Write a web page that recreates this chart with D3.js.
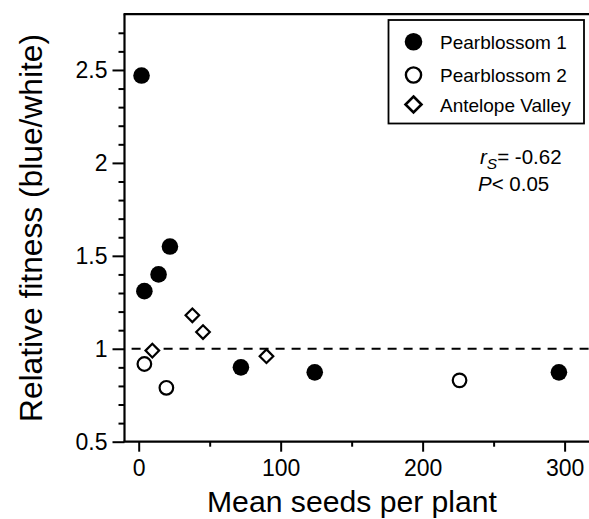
<!DOCTYPE html>
<html><head><meta charset="utf-8">
<script src="https://cdn.jsdelivr.net/npm/d3@7"></script>
<style>
body{margin:0;background:#fff;}
svg{display:block;font-family:Arial,"Liberation Sans",Helvetica,sans-serif;}
</style></head>
<body>
<svg id="c" width="589" height="519"></svg>
<script>
// ---- data ----
const p1X = [2, 4, 14, 22, 72, 124, 296];
const p1Y = [2.47, 1.31, 1.40, 1.55, 0.90, 0.873, 0.873];
const p2X = [4, 19.5, 226];
const p2Y = [0.918, 0.79, 0.83];
const avX = [9.6, 37.8, 45.3, 90];
const avY = [0.99, 1.18, 1.09, 0.96];
const xTicks = [0, 100, 200, 300];
const xMinor = [50, 150, 250];
const yTicks = [0.5, 1, 1.5, 2, 2.5];
const yTickLabels = ["0.5", "1", "1.5", "2", "2.5"];
const yMinor = [0.6,0.7,0.8,0.9,1.1,1.2,1.3,1.4,1.6,1.7,1.8,1.9,2.1,2.2,2.3,2.4,2.6,2.7];
const legendLabels = ["Pearblossom 1", "Pearblossom 2", "Antelope Valley"];
const refLine = 1;

const svg = d3.select("#c");
const x = d3.scaleLinear().domain([-10, 320]).range([124.5, 593]);
const y = d3.scaleLinear().domain([0.5, 2.8]).range([441.7, 14.2]);

// axes
const yAxis = d3.axisLeft(y).tickValues(yTicks).tickSize(12).tickPadding(5)
  .tickFormat((d,i)=>yTickLabels[i]);
const gy = svg.append("g").attr("transform",`translate(${x(-10)},0)`).call(yAxis);
gy.select(".domain").remove();
const gyMinor = svg.append("g").attr("transform",`translate(${x(-10)},0)`)
  .call(d3.axisLeft(y).tickValues(yMinor).tickSize(6).tickFormat(""));
gyMinor.select(".domain").remove();

const xAxis = d3.axisBottom(x).tickValues(xTicks).tickSize(10).tickPadding(8).tickFormat(d3.format("d"));
const gx = svg.append("g").attr("transform",`translate(0,${y(0.5)})`).call(xAxis);
gx.select(".domain").remove();
const gxMinor = svg.append("g").attr("transform",`translate(0,${y(0.5)})`)
  .call(d3.axisBottom(x).tickValues(xMinor).tickSize(5).tickFormat(""));
gxMinor.select(".domain").remove();

svg.selectAll(".tick line").attr("stroke","#000").attr("stroke-width",2);
gy.selectAll("text").attr("font-size",23).attr("fill","#000").attr("font-family","Arial,'Liberation Sans',sans-serif");
gx.selectAll("text").attr("font-size",23).attr("fill","#000").attr("font-family","Arial,'Liberation Sans',sans-serif");

// frame lines: left, bottom, top
svg.append("line").attr("x1",x(-10)).attr("x2",x(-10)).attr("y1",y(2.8)).attr("y2",y(0.5))
  .attr("stroke","#000").attr("stroke-width",2.2);
svg.append("line").attr("x1",x(-10)-1).attr("x2",x(320)).attr("y1",y(0.5)).attr("y2",y(0.5))
  .attr("stroke","#000").attr("stroke-width",2.2);
svg.append("line").attr("x1",x(-10)-1).attr("x2",x(320)).attr("y1",y(2.8)).attr("y2",y(2.8))
  .attr("stroke","#000").attr("stroke-width",2.2);

// reference dashed line
svg.append("line").attr("x1",x(-5)).attr("x2",x(320)).attr("y1",y(refLine)).attr("y2",y(refLine))
  .attr("stroke","#000").attr("stroke-width",2).attr("stroke-dasharray","9,7");

// points
const diamond = (cx, cy, h) => `M${cx},${cy-h}L${cx+h},${cy}L${cx},${cy+h}L${cx-h},${cy}Z`;
svg.append("g").selectAll("circle").data(p1X).join("circle")
  .attr("cx",(d)=>x(d)).attr("cy",(d,i)=>y(p1Y[i])).attr("r",8.3).attr("fill","#000");
svg.append("g").selectAll("circle").data(p2X).join("circle")
  .attr("cx",(d)=>x(d)).attr("cy",(d,i)=>y(p2Y[i])).attr("r",6.8)
  .attr("fill","#fff").attr("stroke","#000").attr("stroke-width",2.2);
svg.append("g").selectAll("path").data(avX).join("path")
  .attr("d",(d,i)=>diamond(x(d), y(avY[i]), 6.8))
  .attr("fill","#fff").attr("stroke","#000").attr("stroke-width",2.2);

// legend
const lg = svg.append("g");
lg.append("rect").attr("x",388.5).attr("y",20).attr("width",195.5).attr("height",103.5)
  .attr("fill","#fff").attr("stroke","#000").attr("stroke-width",1.8);
const lgY = [41.7, 75, 104.5];
lg.append("circle").attr("cx",413.5).attr("cy",lgY[0]).attr("r",8.8).attr("fill","#000");
lg.append("circle").attr("cx",413.5).attr("cy",lgY[1]).attr("r",7.6).attr("fill","#fff").attr("stroke","#000").attr("stroke-width",2.4);
lg.append("path").attr("d",diamond(413.5,lgY[2],8)).attr("fill","#fff").attr("stroke","#000").attr("stroke-width",2.6);
lg.selectAll("text").data(legendLabels).join("text")
  .attr("x",440).attr("y",(d,i)=>lgY[i]+7).attr("font-size",19).attr("fill","#000").text(d=>d);

// stats annotation
const ann = svg.append("text").attr("x",480).attr("y",164).attr("font-size",20.5).attr("fill","#000");
ann.append("tspan").attr("font-style","italic").text("r");
ann.append("tspan").attr("font-style","italic").attr("font-size",15.5).attr("dy",4.5).text("S");
ann.append("tspan").attr("dy",-4.5).text("= -0.62");
const ann2 = svg.append("text").attr("x",478).attr("y",191).attr("font-size",20.5).attr("fill","#000");
ann2.append("tspan").attr("font-style","italic").text("P");
ann2.append("tspan").text("< 0.05");

// axis titles
svg.append("text").attr("x",352).attr("y",512).attr("text-anchor","middle")
  .attr("font-size",29.5).attr("textLength",290).attr("lengthAdjust","spacingAndGlyphs")
  .attr("fill","#000").text("Mean seeds per plant");
svg.append("text").attr("transform","translate(42,228) rotate(-90)").attr("text-anchor","middle")
  .attr("font-size",31).attr("textLength",388).attr("lengthAdjust","spacingAndGlyphs")
  .attr("fill","#000").text("Relative fitness (blue/white)");
</script>
</body></html>
